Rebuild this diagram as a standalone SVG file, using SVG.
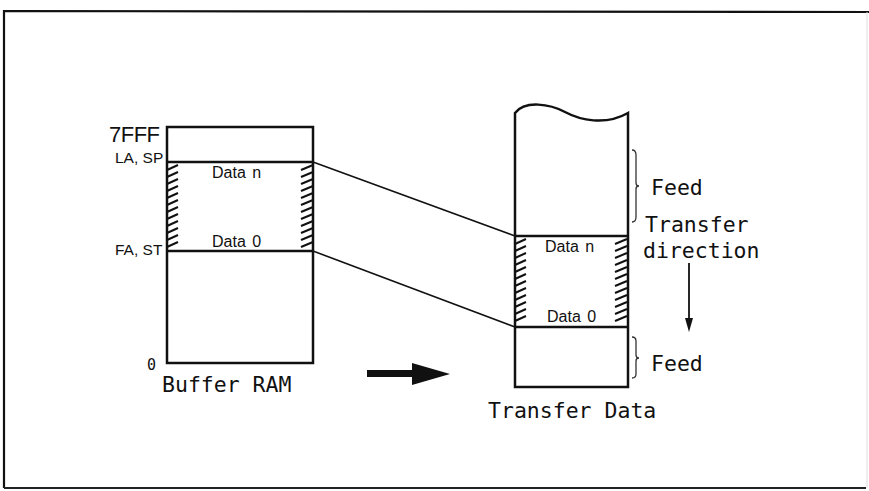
<svg xmlns="http://www.w3.org/2000/svg" width="869" height="491" viewBox="0 0 869 491">
<style>
.box{fill:none;stroke:#111;stroke-width:2.5;stroke-linejoin:miter}
.div{stroke:#111;stroke-width:2.5}
.hatch{fill:none;stroke:#111;stroke-width:2}
.conn{fill:none;stroke:#111;stroke-width:1.6}
.brace{fill:none;stroke:#333;stroke-width:1.3}
.sans{font-family:"Liberation Sans",Arial,sans-serif;fill:#111}
.mono{font-family:"DejaVu Sans Mono",monospace;fill:#111;font-size:21.5px}
</style>
<rect width="869" height="491" fill="#fff"/>
<g id="frame">
<path d="M4,488 L4,11 L869,12" fill="none" stroke="#111" stroke-width="2.2"/>
<path d="M4,488 L866,488" fill="none" stroke="#222" stroke-width="2"/>
<path d="M867,12 L867,488" fill="none" stroke="#ddd" stroke-width="1"/>
</g>
<g id="buffer-ram">
<rect class="box" x="167" y="127" width="146" height="236"/>
<line class="div" x1="167" y1="162" x2="313" y2="162"/>
<line class="div" x1="167" y1="251" x2="313" y2="251"/>
<path class="hatch" d="M167,170 l11,-5 M167,177 l11,-5 M167,184 l11,-5 M167,191 l11,-5 M167,198 l11,-5 M167,205 l11,-5 M167,212 l11,-5 M167,219 l11,-5 M167,226 l11,-5 M167,233 l11,-5 M167,240 l11,-5 M167,247 l11,-5"/>
<path class="hatch" d="M301,170 l12,-5 M301,177 l12,-5 M301,184 l12,-5 M301,191 l12,-5 M301,198 l12,-5 M301,205 l12,-5 M301,212 l12,-5 M301,219 l12,-5 M301,226 l12,-5 M301,233 l12,-5 M301,240 l12,-5 M301,247 l12,-5"/>
<text class="sans" x="212" y="178" font-size="16" word-spacing="2">Data n</text>
<text class="sans" x="212" y="247" font-size="16" word-spacing="2">Data 0</text>
<text class="sans" x="109" y="142" font-size="22" letter-spacing="-0.5">7FFF</text>
<text class="sans" x="115" y="163" font-size="15.5">LA, SP</text>
<text class="sans" x="115" y="255" font-size="15.5">FA, ST</text>
<text class="mono" x="147" y="370" style="font-size:15px">0</text>
<text class="mono" x="162" y="392">Buffer RAM</text>
</g>
<g id="transfer-data">
<path class="box" d="M515,113 C525,100 550,104 565,112 C580,120 605,126 628,113 L628,387 L515,387 Z"/>
<line class="div" x1="515" y1="236" x2="628" y2="236"/>
<line class="div" x1="515" y1="327" x2="628" y2="327"/>
<path class="hatch" d="M515,244 l11,-5 M515,251 l11,-5 M515,258 l11,-5 M515,265 l11,-5 M515,272 l11,-5 M515,279 l11,-5 M515,286 l11,-5 M515,293 l11,-5 M515,300 l11,-5 M515,307 l11,-5 M515,314 l11,-5 M515,321 l11,-5"/>
<path class="hatch" d="M615,244 l12,-5 M615,251 l12,-5 M615,258 l12,-5 M615,265 l12,-5 M615,272 l12,-5 M615,279 l12,-5 M615,286 l12,-5 M615,293 l12,-5 M615,300 l12,-5 M615,307 l12,-5 M615,314 l12,-5 M615,321 l12,-5"/>
<text class="sans" x="545" y="252" font-size="16" word-spacing="2">Data n</text>
<text class="sans" x="547" y="322" font-size="16" word-spacing="2">Data 0</text>
<text class="mono" x="488" y="418">Transfer Data</text>
</g>
<g id="feed-labels">
<path class="brace" d="M632,150 Q636,150 636,155 L636,183 Q636,186 639,186 Q636,186 636,189 L636,217 Q636,222 632,222"/>
<text class="mono" x="651" y="195">Feed</text>
<text class="mono" x="645" y="232">Transfer</text>
<text class="mono" x="643" y="258">direction</text>
<path class="brace" d="M632,337 Q636,337 636,341 L636,355 Q636,358 639,358 Q636,358 636,361 L636,374 Q636,378 632,378"/>
<text class="mono" x="651" y="371">Feed</text>
</g>
<g id="connectors">
<line class="conn" x1="313" y1="162" x2="515" y2="236"/>
<line class="conn" x1="313" y1="251" x2="515" y2="327"/>
<path d="M367,370 L412,370 L412,363 L450,374 L412,385 L412,377 L367,377 Z" fill="#111"/>
<line x1="689" y1="263" x2="689" y2="320" stroke="#111" stroke-width="1.8"/>
<path d="M685,318 L693,318 L689,332 Z" fill="#111"/>
</g>
</svg>
